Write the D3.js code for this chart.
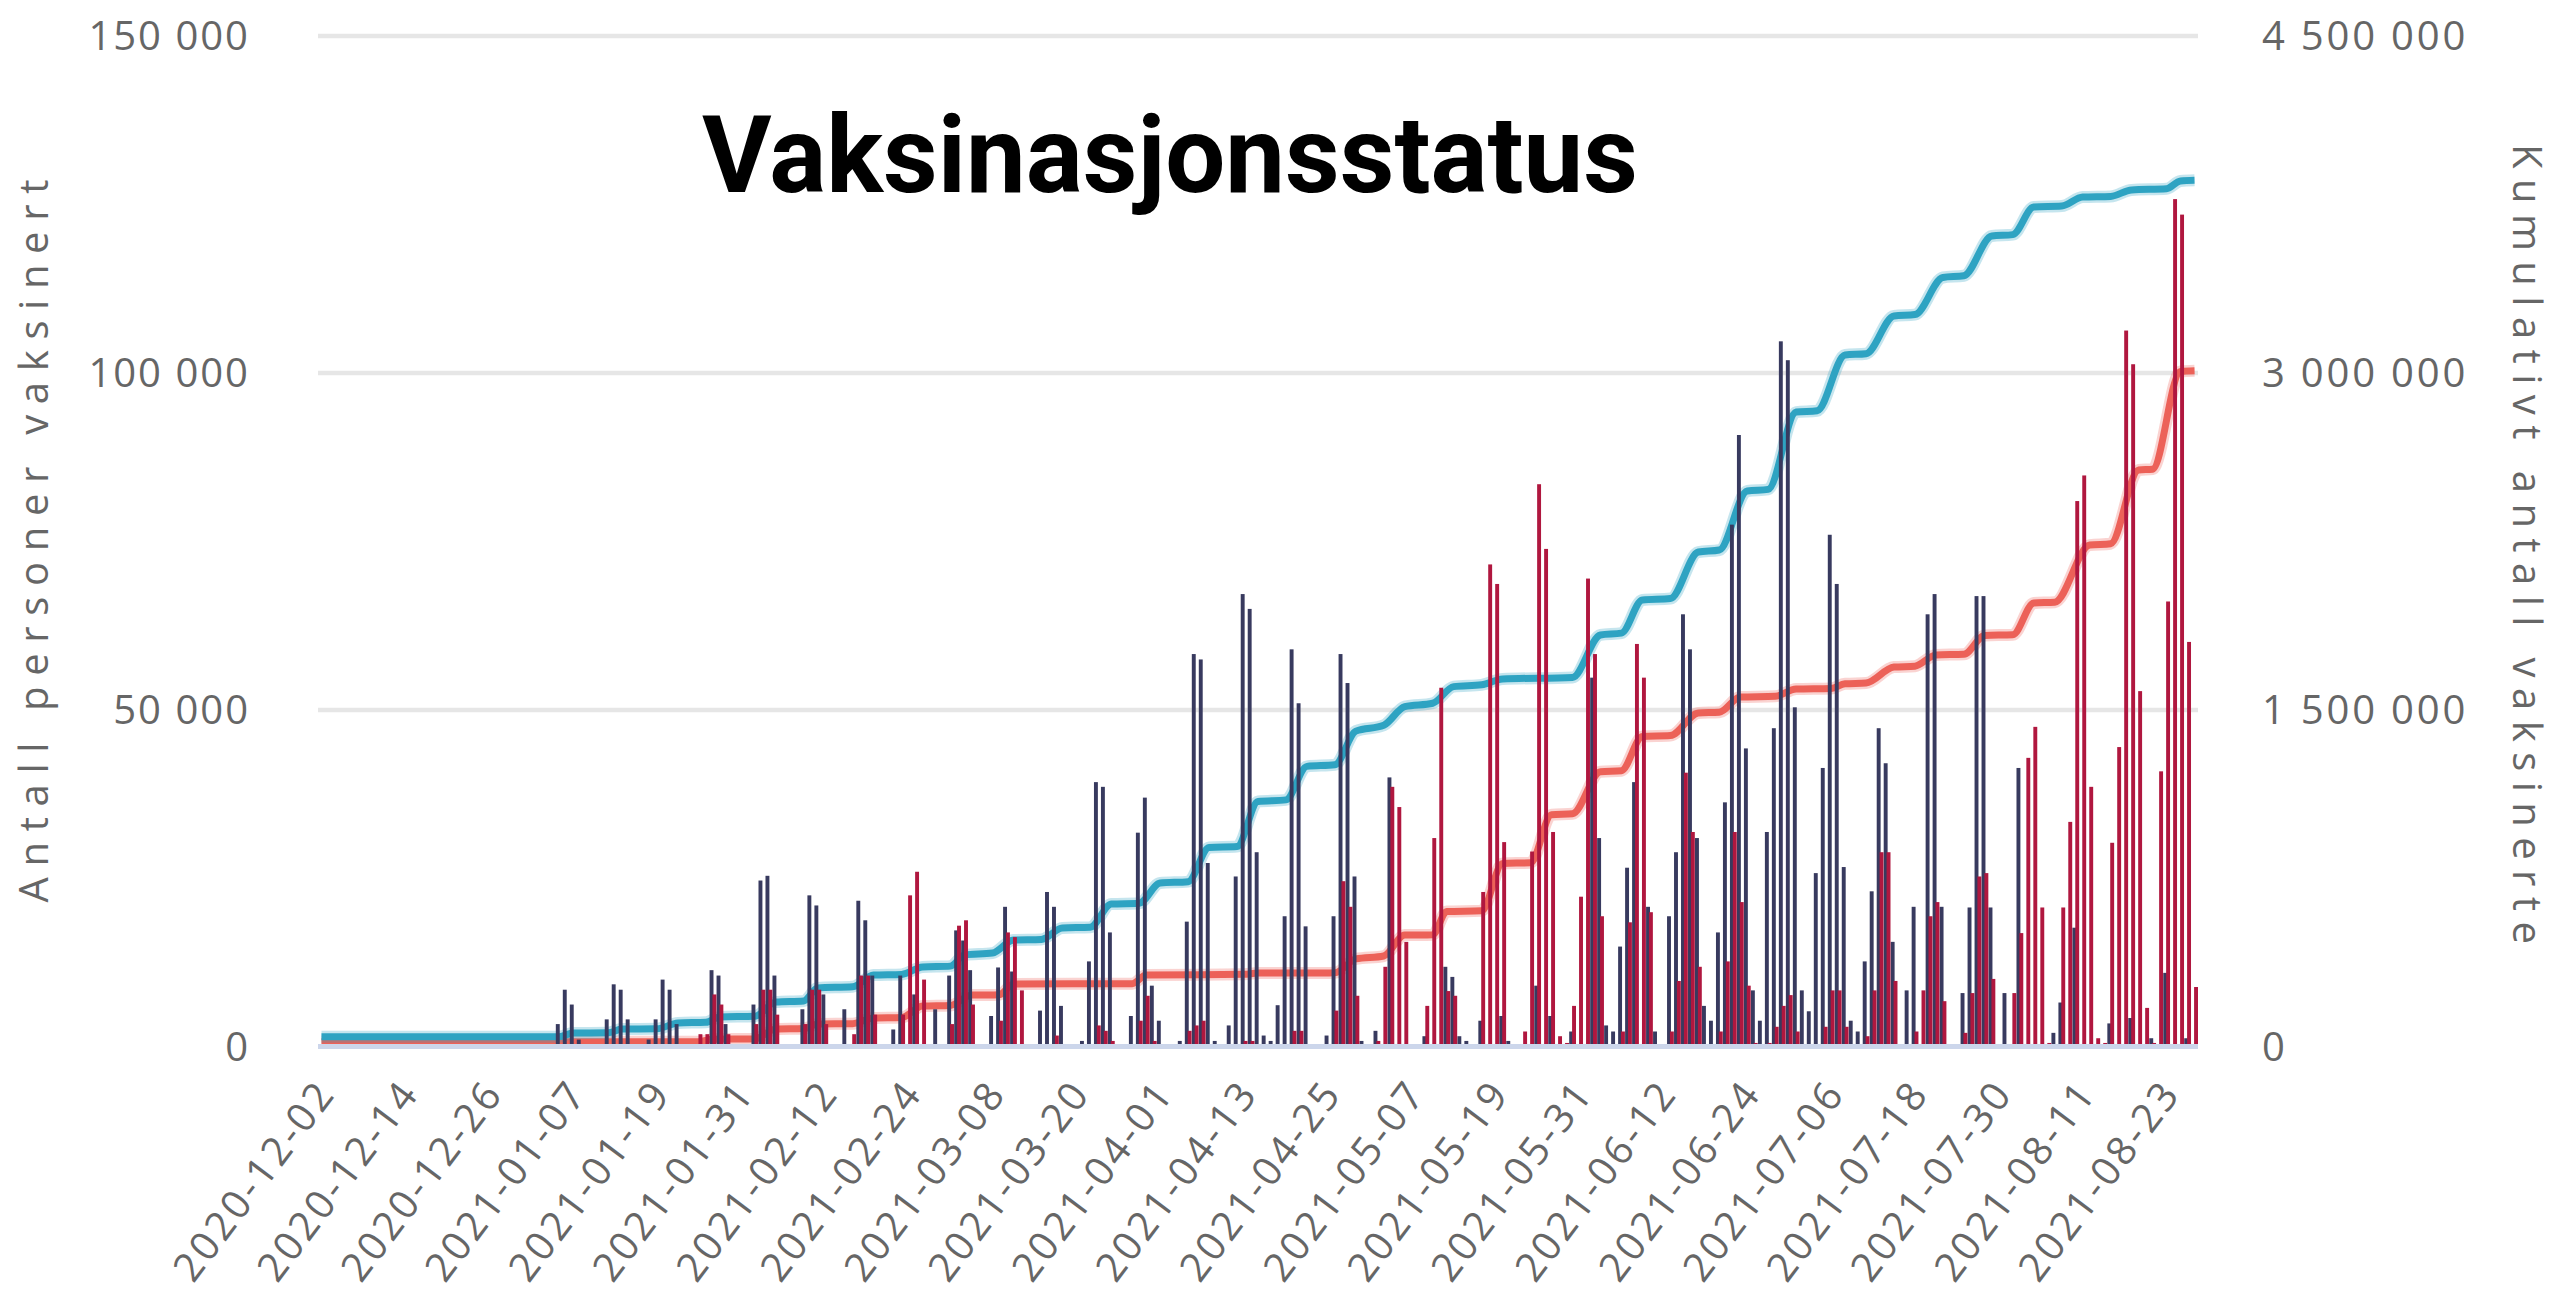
<!DOCTYPE html>
<html><head><meta charset="utf-8">
<script src="https://cdn.jsdelivr.net/npm/d3@7"></script>
<style>html,body{margin:0;padding:0;background:#fff;} svg{display:block;}</style>
</head><body>
<svg id="chart" width="2560" height="1306"></svg>
<script>
// ---------- DATA ----------
const startDate = "2020-12-02";
const endDate = "2021-08-27";
const titleText = "Vaksinasjonsstatus";
const leftAxisTitle = "Antall personer vaksinert";
const rightAxisTitle = "Kumulativt antall vaksinerte";
const leftTicks = [0, 50000, 100000, 150000];
const rightTicks = [0, 1500000, 3000000, 4500000];
const xTickEvery = 12;

// Daily dose 1 (navy bars), one value per day from startDate
const dose1Daily = [
0,0,0,0,0,0,0,0,0,0,
0,0,0,0,0,0,0,0,0,0,
0,0,0,0,0,0,0,0,0,0,
0,0,0,0,3400,8500,6300,1100,0,0,
0,4100,9300,8500,4100,0,0,1100,4100,10000,
8500,3400,0,0,0,0,11400,10600,3400,0,
0,0,6300,24700,25400,10600,0,0,0,5600,
22500,21000,7800,0,0,5600,0,21700,18800,10600,
0,0,2600,10600,0,7800,0,0,5600,0,
10600,17300,15800,11400,0,0,4600,11800,20800,11200,
0,0,0,5400,23000,20800,6100,0,0,900,
12700,39300,38600,17000,0,0,4600,31800,37000,9100,
3900,0,0,900,18600,58300,57500,27300,900,0,
3200,25300,67200,65000,28900,1700,900,6200,19400,59000,
51000,17900,0,0,1700,19400,58300,54000,25300,900,
0,2400,0,40000,0,0,0,0,1600,0,
0,11900,10400,1600,900,0,3900,0,0,4600,
900,0,0,0,9100,0,4600,0,0,2300,
0,0,54800,31000,3200,2300,14900,26600,39300,0,
20800,2300,0,19400,28900,64200,59000,31000,6100,3900,
17000,36300,77500,90800,44300,8400,3900,31900,47300,104700,
101900,50400,8400,5300,25800,41400,76000,68700,26700,3900,
2300,12700,23100,47300,42100,15600,0,8400,20800,0,
64200,67200,20800,0,0,8000,20700,66900,66900,20700,
0,8000,0,41400,0,0,0,0,2100,6600,
0,17700,0,0,0,0,3500,0,0,4300,
0,0,1300,0,11000,0,0,1300,0
];

// Daily dose 2 (crimson bars)
const dose2Daily = [
0,0,0,0,0,0,0,0,0,0,
0,0,0,0,0,0,0,0,0,0,
0,0,0,0,0,0,0,0,0,0,
0,0,0,0,0,0,0,0,0,0,
0,0,0,0,0,0,0,0,0,0,
0,0,0,0,1900,1900,7800,6300,1900,0,
0,0,3400,8500,8500,4800,0,0,0,3400,
8500,8500,3400,0,0,0,1900,10600,10600,4800,
0,0,0,4800,22500,26000,10000,0,0,0,
3400,18000,18800,6300,0,0,0,3900,17000,16300,
8400,0,0,0,0,1700,0,0,0,0,
0,3200,2400,900,0,0,0,3900,7600,900,
0,0,0,0,2400,3200,3900,0,0,0,
0,0,900,900,0,0,0,0,0,2400,
2400,0,0,0,0,5400,24600,20800,7600,0,
0,900,11900,38600,35600,15600,0,0,6100,31000,
53300,8300,7600,0,0,0,23000,71600,68700,30400,
0,0,2300,29000,83500,73900,31900,1600,600,6100,
22300,69500,58300,19400,0,0,2300,18500,59800,54800,
20000,0,0,2300,9800,40700,31900,11900,0,0,
2300,12700,31900,21500,9100,600,0,600,3000,6100,
7700,2300,0,0,0,3000,8400,8400,3000,0,
0,1600,8400,28900,28900,9800,0,0,2300,8400,
19400,21500,6800,0,0,2100,8000,25300,25800,10100,
0,0,8000,16900,42900,47500,20700,600,0,20700,
33400,81000,84800,38600,1300,600,30300,44500,106300,101300,
52800,5800,600,40900,66100,125800,123500,60100,8900
];

// Cumulative dose 1 (blue line), read at the corners of the steps
const cum1Dates = ["2020-12-02","2021-01-05","2021-01-07","2021-01-12","2021-01-14","2021-01-19","2021-01-22","2021-01-26","2021-01-28","2021-02-02","2021-02-05","2021-02-09","2021-02-11","2021-02-16","2021-02-19","2021-02-23","2021-02-26","2021-03-02","2021-03-04","2021-03-08","2021-03-11","2021-03-15","2021-03-18","2021-03-22","2021-03-25","2021-03-29","2021-04-01","2021-04-05","2021-04-08","2021-04-12","2021-04-15","2021-04-19","2021-04-22","2021-04-26","2021-04-29","2021-05-03","2021-05-06","2021-05-10","2021-05-13","2021-05-17","2021-05-20","2021-05-30","2021-06-03","2021-06-06","2021-06-09","2021-06-13","2021-06-17","2021-06-20","2021-06-24","2021-06-27","2021-07-01","2021-07-04","2021-07-08","2021-07-11","2021-07-15","2021-07-18","2021-07-22","2021-07-25","2021-07-29","2021-08-01","2021-08-04","2021-08-08","2021-08-11","2021-08-15","2021-08-18","2021-08-23","2021-08-25","2021-08-27"];
const cum1Values = [46000,46000,62000,63000,80000,81000,107000,110000,134000,137000,200000,205000,263000,268000,320000,323000,356000,360000,410000,418000,476000,479000,530000,533000,636000,640000,730000,736000,888000,892000,1093000,1100000,1249000,1256000,1406000,1432000,1515000,1530000,1604000,1612000,1638000,1645000,1834000,1842000,1990000,1996000,2203000,2212000,2475000,2482000,2826000,2832000,3080000,3086000,3254000,3260000,3425000,3433000,3610000,3616000,3739000,3743000,3783000,3786000,3815000,3820000,3855000,3858000];

// Cumulative dose 2 (red line)
const cum2Dates = ["2020-12-02","2021-01-25","2021-01-27","2021-02-02","2021-02-05","2021-02-09","2021-02-11","2021-02-16","2021-02-19","2021-02-23","2021-02-26","2021-03-02","2021-03-05","2021-03-09","2021-03-11","2021-03-28","2021-03-30","2021-04-13","2021-04-15","2021-04-26","2021-04-29","2021-05-03","2021-05-06","2021-05-10","2021-05-12","2021-05-17","2021-05-20","2021-05-24","2021-05-27","2021-05-30","2021-06-03","2021-06-06","2021-06-09","2021-06-13","2021-06-17","2021-06-20","2021-06-23","2021-06-28","2021-07-01","2021-07-06","2021-07-08","2021-07-11","2021-07-15","2021-07-18","2021-07-21","2021-07-25","2021-07-28","2021-08-01","2021-08-04","2021-08-07","2021-08-12","2021-08-15","2021-08-19","2021-08-21","2021-08-25","2021-08-27"];
const cum2Values = [23600,23600,35000,36000,80000,82000,102000,104000,129000,131000,182000,185000,231000,233000,280000,282000,320000,324000,329000,330000,392000,405000,498000,500000,603000,606000,817000,820000,1034000,1038000,1225000,1230000,1382000,1386000,1487000,1490000,1558000,1561000,1593000,1596000,1617000,1620000,1691000,1695000,1745000,1748000,1832000,1835000,1976000,1980000,2234000,2240000,2568000,2572000,3007000,3010000];

// ---------- CHART ----------
const svg = d3.select("#chart");
const plot = {left: 318, right: 2198, top: 36, bottom: 1047};
const C = {navy: "#383a5f", crimson: "#b0173f", blue: "#2ea3c2", red: "#ec6158",
           grid: "#e6e6e6", base: "#ccd6eb", text: "#666666"};

const parse = d3.utcParse("%Y-%m-%d");
const fmt = d3.utcFormat("%Y-%m-%d");
const days = d3.utcDay.range(parse(startDate), d3.utcDay.offset(parse(endDate), 1)).map(fmt);

const x = d3.scaleBand().domain(days).range([plot.left, plot.right]).padding(0);
const yL = d3.scaleLinear().domain([0, 150000]).range([plot.bottom, plot.top]);
const yR = d3.scaleLinear().domain([0, 4500000]).range([plot.bottom, plot.top]);
const bw = x.bandwidth();

const nf = d3.formatLocale({decimal: ",", thousands: " ", grouping: [3], currency: ["", ""]}).format(",d");

// gridlines
svg.append("g").selectAll("line").data(leftTicks.filter(v => v > 0)).join("line")
  .attr("x1", plot.left).attr("x2", plot.right)
  .attr("y1", d => yL(d)).attr("y2", d => yL(d))
  .attr("stroke", C.grid).attr("stroke-width", 4.5);

// cumulative lines
const lineGen = d3.line()
  .x(d => x(d.date) + bw / 2)
  .y(d => yR(d.v))
  .curve(d3.curveMonotoneX);
const cum1 = cum1Dates.map((d, i) => ({date: d, v: cum1Values[i]}));
const cum2 = cum2Dates.map((d, i) => ({date: d, v: cum2Values[i]}));
[[cum2, C.red], [cum1, C.blue]].forEach(([data, col]) => {
  svg.append("path").datum(data).attr("d", lineGen)
    .attr("fill", "none").attr("stroke", col).attr("stroke-width", 12)
    .attr("stroke-opacity", 0.28).attr("stroke-linejoin", "round");
  svg.append("path").datum(data).attr("d", lineGen)
    .attr("fill", "none").attr("stroke", col).attr("stroke-width", 7)
    .attr("stroke-linejoin", "round");
});

// bars
const d1 = days.map((d, i) => ({date: d, v: dose1Daily[i] || 0}));
const d2 = days.map((d, i) => ({date: d, v: dose2Daily[i] || 0}));
svg.append("g").selectAll("rect").data(d1.filter(d => d.v > 0)).join("rect")
  .attr("x", d => x(d.date) + 0.2).attr("width", bw * 0.56)
  .attr("y", d => yL(d.v)).attr("height", d => yL(0) - yL(d.v))
  .attr("fill", C.navy);
svg.append("g").selectAll("rect").data(d2.filter(d => d.v > 0)).join("rect")
  .attr("x", d => x(d.date) + bw * 0.44).attr("width", bw * 0.56)
  .attr("y", d => yL(d.v)).attr("height", d => yL(0) - yL(d.v))
  .attr("fill", C.crimson);

// baseline
svg.append("line").attr("x1", plot.left).attr("x2", plot.right)
  .attr("y1", plot.bottom - 0.5).attr("y2", plot.bottom - 0.5)
  .attr("stroke", C.base).attr("stroke-width", 5);

// left axis labels
svg.append("g").selectAll("text").data(leftTicks).join("text")
  .attr("x", 250).attr("y", d => yL(d)).attr("dy", "0.36em")
  .attr("text-anchor", "end")
  .attr("font-family", "'Open Sans', sans-serif").attr("font-size", 40)
  .attr("letter-spacing", 2).attr("fill", C.text)
  .text(d => nf(d));

// right axis labels
svg.append("g").selectAll("text").data(rightTicks).join("text")
  .attr("x", 2262).attr("y", d => yR(d)).attr("dy", "0.36em")
  .attr("text-anchor", "start")
  .attr("font-family", "'Open Sans', sans-serif").attr("font-size", 40)
  .attr("letter-spacing", 2.8).attr("fill", C.text)
  .text(d => nf(d));

// x labels
const xTicks = days.filter((d, i) => i % xTickEvery === 0);
svg.append("g").selectAll("text").data(xTicks).join("text")
  .attr("transform", d => `translate(${x(d) + bw / 2 + 4},1085) rotate(-53)`)
  .attr("dy", "0.36em")
  .attr("text-anchor", "end")
  .attr("font-family", "'Open Sans', sans-serif").attr("font-size", 40)
  .attr("letter-spacing", 3).attr("fill", C.text)
  .text(d => d);

// axis titles
svg.append("text")
  .attr("transform", "translate(32,541) rotate(-90)")
  .attr("text-anchor", "middle").attr("dominant-baseline", "central")
  .attr("font-family", "'Open Sans', sans-serif").attr("font-size", 40)
  .attr("fill", C.text).attr("textLength", 723).attr("lengthAdjust", "spacing")
  .text(leftAxisTitle);
svg.append("text")
  .attr("transform", "translate(2528,544) rotate(90)")
  .attr("text-anchor", "middle").attr("dominant-baseline", "central")
  .attr("font-family", "'Open Sans', sans-serif").attr("font-size", 40)
  .attr("fill", C.text).attr("textLength", 800).attr("lengthAdjust", "spacing")
  .text(rightAxisTitle);

// title
svg.append("text")
  .attr("x", 702).attr("y", 192)
  .attr("font-family", "Roboto, 'Liberation Sans', sans-serif").attr("font-weight", 700)
  .attr("font-size", 108).attr("fill", "#000")
  .attr("textLength", 936).attr("lengthAdjust", "spacingAndGlyphs")
  .text(titleText);
</script>
</body></html>
